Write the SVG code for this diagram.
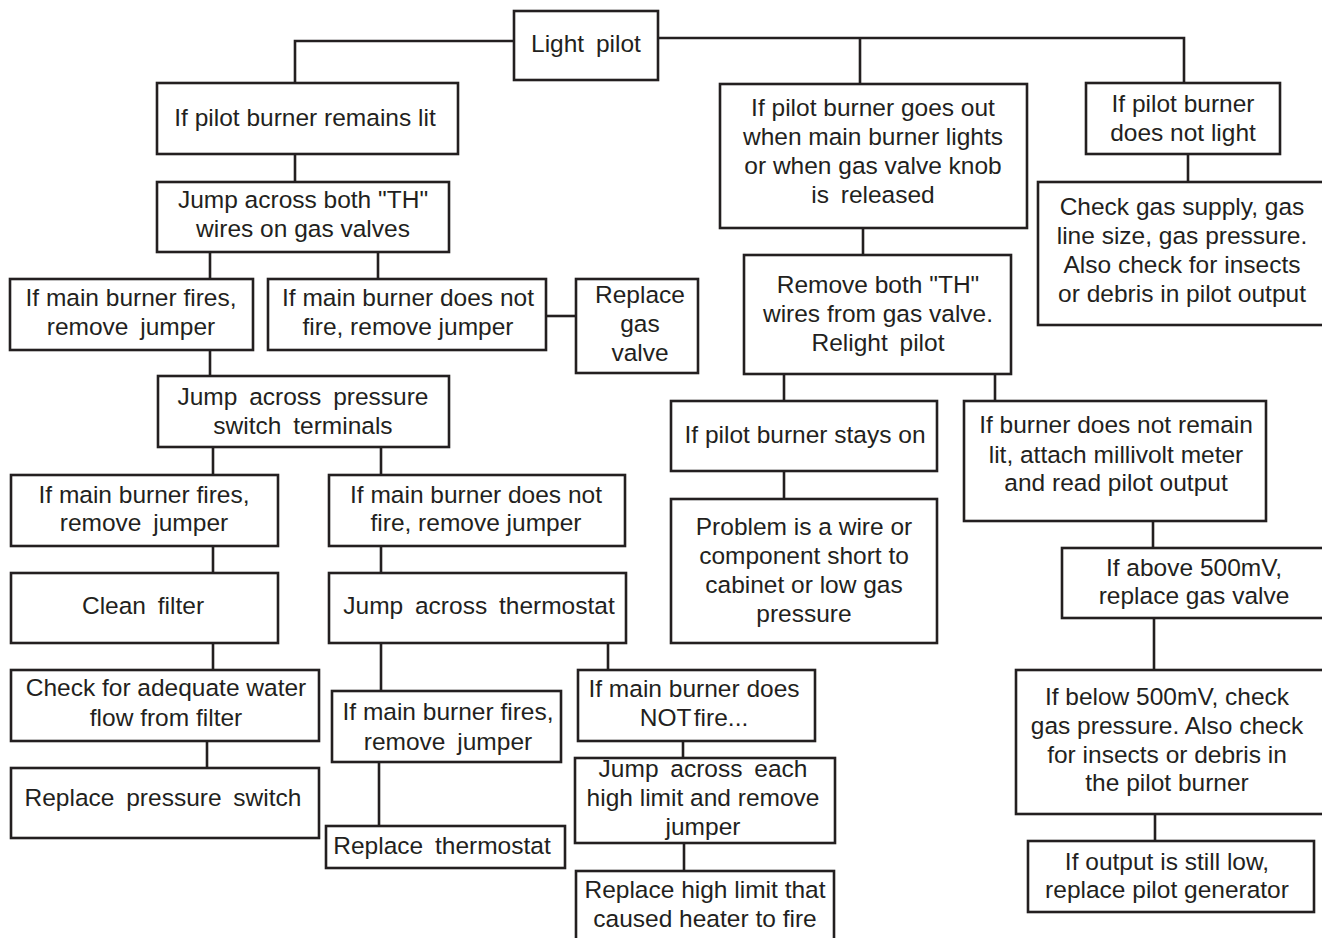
<svg xmlns="http://www.w3.org/2000/svg" width="1322" height="938" viewBox="0 0 1322 938">
<style>
  .box{fill:#fff;stroke:#231f20;stroke-width:2.6}
  .ln{fill:none;stroke:#231f20;stroke-width:2.6}
  text{font-family:"Liberation Sans",Arial,sans-serif;font-size:24.5px;fill:#231f20;text-anchor:middle}
  .ws{word-spacing:5px}
</style>
<rect width="1322" height="938" fill="#fff"/>
<g id="connectors">
  <path class="ln" d="M514,41 H295 V83"/>
  <path class="ln" d="M658,38 H1184 V83 M860,38 V83"/>
  <path class="ln" d="M295,154 V182"/>
  <path class="ln" d="M210,252 V279 M378,252 V279"/>
  <path class="ln" d="M546,316 H576"/>
  <path class="ln" d="M210,350 V376"/>
  <path class="ln" d="M213,447 V475 M381,447 V475"/>
  <path class="ln" d="M213,546 V573 M381,546 V573"/>
  <path class="ln" d="M213,643 V670"/>
  <path class="ln" d="M207,741 V768"/>
  <path class="ln" d="M381,643 V691"/>
  <path class="ln" d="M379,762 V826"/>
  <path class="ln" d="M608,643 V670"/>
  <path class="ln" d="M683,741 V758"/>
  <path class="ln" d="M684,843 V871"/>
  <path class="ln" d="M863,228 V255"/>
  <path class="ln" d="M1188,154 V182"/>
  <path class="ln" d="M784,374 V401 M995,374 V401"/>
  <path class="ln" d="M784,471 V499"/>
  <path class="ln" d="M1153,521 V548"/>
  <path class="ln" d="M1154,618 V670"/>
  <path class="ln" d="M1155,814 V841"/>
</g>
<g id="n1"><rect class="box" x="514" y="11" width="144" height="69"/><text x="586" y="52" class="ws">Light pilot</text></g>
<g id="n2"><rect class="box" x="157" y="83" width="301" height="71"/><text x="305" y="126">If pilot burner remains lit</text></g>
<g id="n3"><rect class="box" x="157" y="182" width="292" height="70"/><text x="303" y="208">Jump across both "TH"</text><text x="303" y="237">wires on gas valves</text></g>
<g id="n4"><rect class="box" x="10" y="279" width="243" height="71"/><text x="131" y="306">If main burner fires,</text><text x="131" y="335" class="ws">remove jumper</text></g>
<g id="n5"><rect class="box" x="268" y="279" width="278" height="71"/><text x="408" y="306">If main burner does not</text><text x="408" y="335">fire, remove jumper</text></g>
<g id="n6"><rect class="box" x="576" y="279" width="122" height="94"/><text x="640" y="303">Replace</text><text x="640" y="332">gas</text><text x="640" y="361">valve</text></g>
<g id="n7"><rect class="box" x="158" y="376" width="291" height="71"/><text x="303" y="405" class="ws">Jump across pressure</text><text x="303" y="434" class="ws">switch terminals</text></g>
<g id="n8"><rect class="box" x="11" y="475" width="267" height="71"/><text x="144" y="503">If main burner fires,</text><text x="144" y="531" class="ws">remove jumper</text></g>
<g id="n9"><rect class="box" x="329" y="475" width="296" height="71"/><text x="476" y="503">If main burner does not</text><text x="476" y="531">fire, remove jumper</text></g>
<g id="n10"><rect class="box" x="11" y="573" width="267" height="70"/><text x="143" y="614" class="ws">Clean filter</text></g>
<g id="n11"><rect class="box" x="329" y="573" width="297" height="70"/><text x="479" y="614" class="ws">Jump across thermostat</text></g>
<g id="n12"><rect class="box" x="11" y="670" width="308" height="71"/><text x="166" y="696">Check for adequate water</text><text x="166" y="726">flow from filter</text></g>
<g id="n13"><rect class="box" x="11" y="768" width="308" height="70"/><text x="163" y="806" class="ws">Replace pressure switch</text></g>
<g id="n14"><rect class="box" x="332" y="691" width="229" height="71"/><text x="448" y="720">If main burner fires,</text><text x="448" y="750" class="ws">remove jumper</text></g>
<g id="n15"><rect class="box" x="326" y="826" width="239" height="42"/><text x="442" y="854" class="ws">Replace thermostat</text></g>
<g id="n16"><rect class="box" x="578" y="670" width="237" height="71"/><text x="694" y="697">If main burner does</text><text x="694" y="726" style="word-spacing:-4px">NOT fire...</text></g>
<g id="n17"><rect class="box" x="575" y="758" width="260" height="85"/><text x="703" y="777" class="ws">Jump across each</text><text x="703" y="806">high limit and remove</text><text x="703" y="835">jumper</text></g>
<g id="n18"><rect class="box" x="576" y="871" width="258" height="80"/><text x="705" y="898">Replace high limit that</text><text x="705" y="927">caused heater to fire</text></g>
<g id="n19"><rect class="box" x="720" y="84" width="307" height="144"/><text x="873" y="116">If pilot burner goes out</text><text x="873" y="145">when main burner lights</text><text x="873" y="174">or when gas valve knob</text><text x="873" y="203" class="ws">is released</text></g>
<g id="n20"><rect class="box" x="1086" y="83" width="194" height="71"/><text x="1183" y="112">If pilot burner</text><text x="1183" y="141">does not light</text></g>
<g id="n21"><rect class="box" x="1038" y="182" width="300" height="143"/><text x="1182" y="215">Check gas supply, gas</text><text x="1182" y="244">line size, gas pressure.</text><text x="1182" y="273">Also check for insects</text><text x="1182" y="302">or debris in pilot output</text></g>
<g id="n22"><rect class="box" x="744" y="255" width="267" height="119"/><text x="878" y="293">Remove both "TH"</text><text x="878" y="322">wires from gas valve.</text><text x="878" y="351" class="ws">Relight pilot</text></g>
<g id="n23"><rect class="box" x="671" y="401" width="266" height="70"/><text x="805" y="443">If pilot burner stays on</text></g>
<g id="n24"><rect class="box" x="671" y="499" width="266" height="144"/><text x="804" y="535">Problem is a wire or</text><text x="804" y="564">component short to</text><text x="804" y="593">cabinet or low gas</text><text x="804" y="622">pressure</text></g>
<g id="n25"><rect class="box" x="964" y="401" width="302" height="120"/><text x="1116" y="433">If burner does not remain</text><text x="1116" y="463">lit, attach millivolt meter</text><text x="1116" y="491">and read pilot output</text></g>
<g id="n26"><rect class="box" x="1062" y="548" width="276" height="70"/><text x="1194" y="576">If above 500mV,</text><text x="1194" y="604">replace gas valve</text></g>
<g id="n27"><rect class="box" x="1016" y="670" width="322" height="144"/><text x="1167" y="705">If below 500mV, check</text><text x="1167" y="734">gas pressure. Also check</text><text x="1167" y="763">for insects or debris in</text><text x="1167" y="791">the pilot burner</text></g>
<g id="n28"><rect class="box" x="1028" y="841" width="286" height="71"/><text x="1167" y="870">If output is still low,</text><text x="1167" y="898">replace pilot generator</text></g>
</svg>
